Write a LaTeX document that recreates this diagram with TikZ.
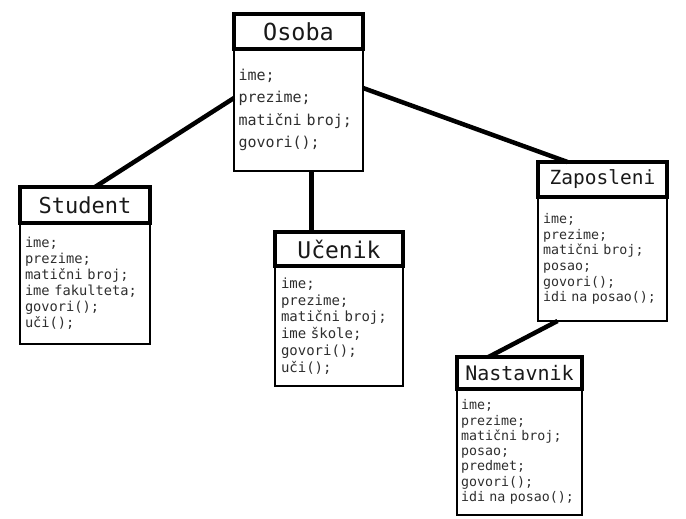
\documentclass[tikz,border=0pt]{standalone}
\usepackage{fontspec}
\newfontfamily\mono{DejaVu Sans Mono}
\usetikzlibrary{positioning}

\tikzset{
  glava/.style={draw, line width=3.5pt, outer sep=0pt, inner sep=0pt, anchor=north west, text=black!90},
  tijelo/.style={draw, line width=2.5pt, outer sep=0pt, inner xsep=7pt, inner ysep=0pt, align=left, text=black!82},
  veza/.style={line width=4.5pt}
}

\begin{document}
\begin{tikzpicture}[x=1pt, y=-1pt]
    \useasboundingbox (0,0) rectangle (686,519);

    % Osoba
    \node[glava, minimum width=129pt, minimum height=35pt, font={\mono\fontsize{23.5}{26}\selectfont}] (osobaHead) at (234,14) {Osoba};
    \node[tijelo, below=0pt of osobaHead, minimum width=129pt, minimum height=122pt, text width=120pt, inner xsep=4.5pt, font={\mono\fontsize{15}{22.3}\selectfont}] (osobaBody)
        {ime;\\prezime;\\matični broj;\\govori();};

    % Student
    \node[glava, minimum width=130pt, minimum height=36pt, font={\mono\fontsize{22}{25}\selectfont}] (studentHead) at (20,187) {Student};
    \node[tijelo, below=0pt of studentHead, minimum width=130pt, minimum height=121pt, text width=120pt, inner xsep=5pt, font={\mono\fontsize{13.7}{16}\selectfont}] (studentBody)
        {ime;\\prezime;\\matični broj;\\ime fakulteta;\\govori();\\uči();};

    % Ucenik
    \node[glava, minimum width=128pt, minimum height=34pt, font={\mono\fontsize{23}{26}\selectfont}] (ucenikHead) at (275,232) {Učenik};
    \node[tijelo, below=0pt of ucenikHead, minimum width=128pt, minimum height=120pt, text width=116pt, inner xsep=6pt, font={\mono\fontsize{14}{16.7}\selectfont}] (ucenikBody)
        {ime;\\prezime;\\matični broj;\\ime škole;\\govori();\\uči();};

    % Zaposleni
    \node[glava, minimum width=129pt, minimum height=35pt, font={\mono\fontsize{19.5}{22}\selectfont}] (zaposleniHead) at (538,162) {Zaposleni};
    \node[tijelo, below=0pt of zaposleniHead, minimum width=129pt, minimum height=124pt, text width=119pt, inner xsep=5pt, font={\mono\fontsize{13.3}{15.7}\selectfont}] (zaposleniBody)
        {ime;\\prezime;\\matični broj;\\posao;\\govori();\\idi na posao();};

    % Nastavnik
    \node[glava, minimum width=125pt, minimum height=32pt, font={\mono\fontsize{20}{23}\selectfont}] (nastavnikHead) at (457,357) {Nastavnik};
    \node[tijelo, below=0pt of nastavnikHead, minimum width=125pt, minimum height=126pt, text width=117pt, inner xsep=4pt, font={\mono\fontsize{13.3}{15.3}\selectfont}] (nastavnikBody)
        {ime;\\prezime;\\matični broj;\\posao;\\predmet;\\govori();\\idi na posao();};

    % veze
    \draw[veza] ([yshift=12pt]osobaBody.west) -- ([xshift=10pt]studentHead.north);
    \draw[veza] ([xshift=13pt]osobaBody.south) -- ([xshift=13pt]osobaBody.south |- ucenikHead.north);
    \draw[veza] ([yshift=22pt]osobaBody.east) -- ([xshift=-35pt]zaposleniHead.north);
    \draw[veza] ([xshift=-45pt]zaposleniBody.south) -- ([xshift=-31pt]nastavnikHead.north);
\end{tikzpicture}
\end{document}
